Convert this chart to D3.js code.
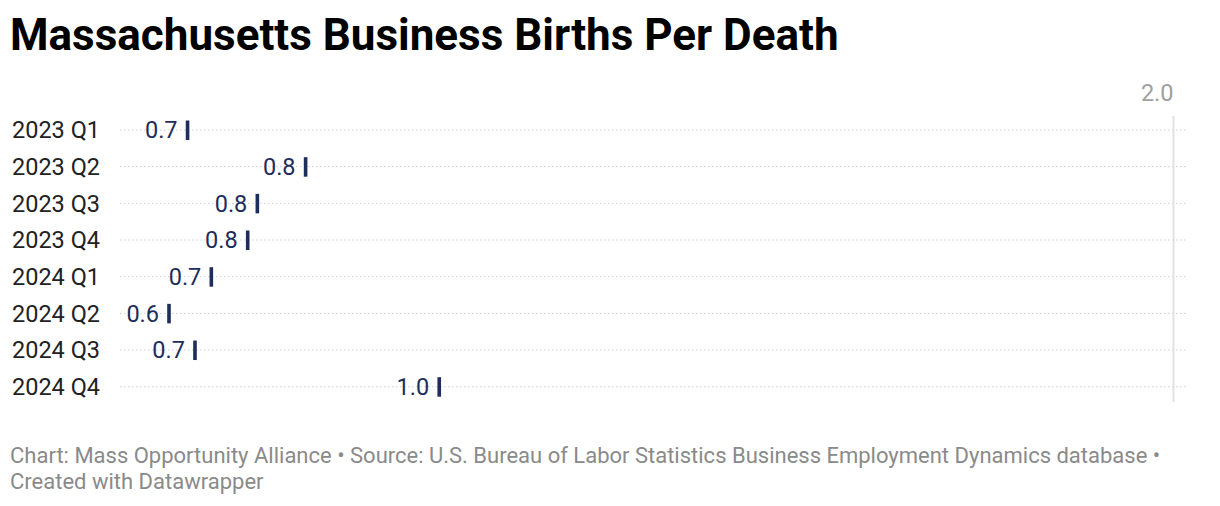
<!DOCTYPE html>
<html><head><meta charset="utf-8">
<script src="https://cdn.jsdelivr.net/npm/d3@7"></script>
<style>
html,body{margin:0;padding:0;background:#fff;}
svg{display:block;font-family:Roboto,"Noto Sans",sans-serif;}
</style></head>
<body>
<svg id="c" width="1220" height="506"></svg>
<script>
const categories = ["2023 Q1","2023 Q2","2023 Q3","2023 Q4","2024 Q1","2024 Q2","2024 Q3","2024 Q4"];
const values = [0.672, 0.831, 0.766, 0.753, 0.704, 0.647, 0.682, 1.011];
const axisTicks = [2.0];
const domainX = [0.581, 2.0];

const svg = d3.select("#c");
const plotL = 120, plotR = 1173.5;
const x = d3.scaleLinear().domain(domainX).range([plotL, plotR]);
const y = d3.scalePoint().domain(categories).range([130, 386.7]);

svg.append("text").attr("x", 10).attr("y", 50)
  .attr("font-size", 44).attr("font-weight", 700).attr("fill", "#000")
  .text("Massachusetts Business Births Per Death");

// gridlines
svg.append("g").selectAll("line").data(categories).join("line")
  .attr("x1", plotL).attr("x2", 1186)
  .attr("y1", d => y(d)).attr("y2", d => y(d))
  .attr("stroke", "#cfcfcf").attr("stroke-width", 1).attr("stroke-dasharray", "1.5,2.5");

// vertical axis tick line
svg.append("g").selectAll("line").data(axisTicks).join("line")
  .attr("x1", d => x(d)).attr("x2", d => x(d))
  .attr("y1", 116).attr("y2", 402)
  .attr("stroke", "#e2e2e2").attr("stroke-width", 2);
svg.append("g").selectAll("text").data(axisTicks).join("text")
  .attr("x", d => x(d)).attr("y", 100.5).attr("text-anchor", "end")
  .attr("font-size", 23.5).attr("fill", "#a0a0a0")
  .text(d => d3.format(".1f")(d));

// category labels
svg.append("g").selectAll("text").data(categories).join("text")
  .attr("x", 12).attr("y", d => y(d)).attr("dy", "0.35em")
  .attr("font-size", 23.5).attr("fill", "#222")
  .text(d => d);

const data = categories.map((c, i) => ({c, v: values[i]}));
// tick markers
svg.append("g").selectAll("rect").data(data).join("rect")
  .attr("x", d => x(d.v) - 1.8).attr("width", 3.6)
  .attr("y", d => y(d.c) - 9.5).attr("height", 19.5)
  .attr("fill", "#1d2d5c");
// value labels
svg.append("g").selectAll("text").data(data).join("text")
  .attr("x", d => x(d.v) - 10).attr("y", d => y(d.c)).attr("dy", "0.35em")
  .attr("text-anchor", "end").attr("font-size", 23.5).attr("fill", "#1d2d5c")
  .text(d => d3.format(".1f")(d.v));

// footer
const foot = svg.append("text").attr("font-size", 22).attr("fill", "#8a8a8a");
foot.append("tspan").attr("x", 10).attr("y", 463)
  .text("Chart: Mass Opportunity Alliance • Source: U.S. Bureau of Labor Statistics Business Employment Dynamics database •");
foot.append("tspan").attr("x", 10).attr("y", 489).text("Created with Datawrapper");
</script>
</body></html>
